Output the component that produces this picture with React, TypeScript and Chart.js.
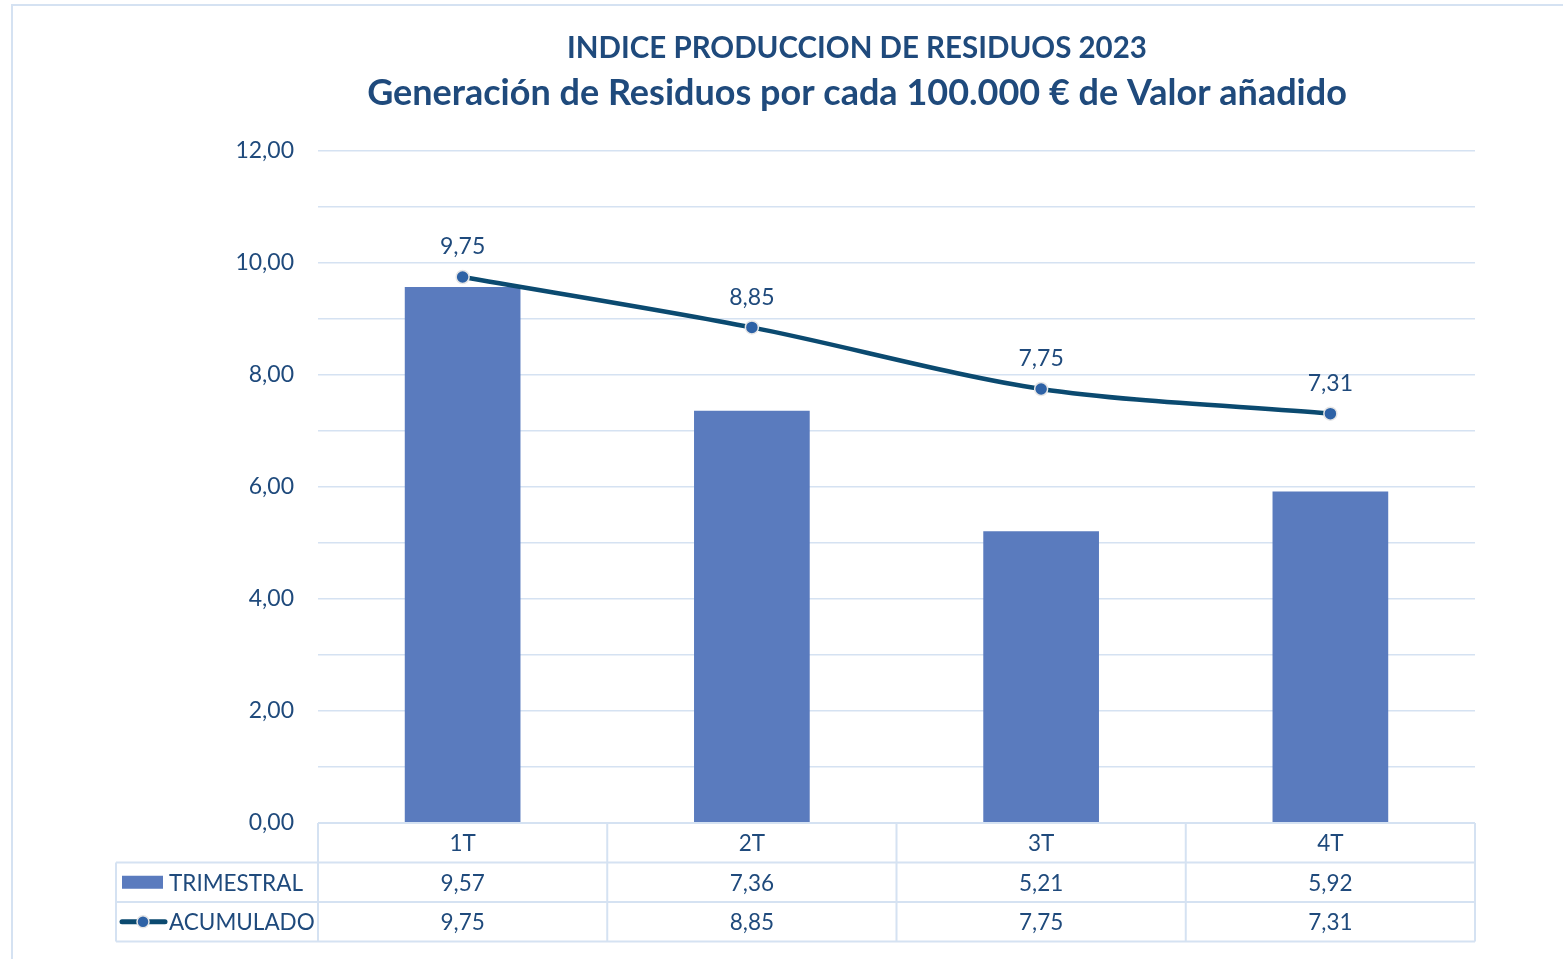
import React, { useEffect, useRef } from "react";
import { Chart, registerables } from "chart.js";

Chart.register(...registerables);

const TITLE_1 = "INDICE PRODUCCION DE RESIDUOS 2023";
const TITLE_2 = "Generación de Residuos por cada 100.000 € de Valor añadido";
const categories = ["1T", "2T", "3T", "4T"];
const trimestral = [9.57, 7.36, 5.21, 5.92];
const acumulado = [9.75, 8.85, 7.75, 7.31];
const seriesNames = ["TRIMESTRAL", "ACUMULADO"];

const TEXT = "#1F4A7C";
const BAR = "#5A7BBE";
const LINE = "#0B4A70";
const POINT = "#2E62A6";
const GRID = "#D5E2F2";
const FONT = "Lato, 'Open Sans', sans-serif";

const fmt = (v: number) => v.toFixed(2).replace(".", ",");

const extrasPlugin = {
  id: "extras",
  afterDraw(chart: any) {
    const ctx = chart.ctx as CanvasRenderingContext2D;
    const area = chart.chartArea;
    const x = chart.scales.x;
    ctx.save();
    // outer border
    ctx.strokeStyle = GRID;
    ctx.lineWidth = 2;
    ctx.beginPath();
    ctx.moveTo(12, 970);
    ctx.lineTo(12, 5);
    ctx.lineTo(1570, 5);
    ctx.stroke();

    // titles
    ctx.fillStyle = TEXT;
    ctx.textAlign = "center";
    ctx.textBaseline = "middle";
    ctx.font = `bold 29.5px ${FONT}`;
    ctx.fillText(TITLE_1, 857, 48);
    ctx.font = `bold 36px ${FONT}`;
    ctx.fillText(TITLE_2, 857, 93);

    // data labels for line
    ctx.font = `23px ${FONT}`;
    const meta = chart.getDatasetMeta(1);
    meta.data.forEach((pt: any, i: number) => {
      ctx.fillText(fmt(acumulado[i]), pt.x, pt.y - 30);
    });

    // data table
    const n = categories.length;
    const colW = (area.right - area.left) / n;
    const rowH = 39.5;
    const top = area.bottom;
    const tableLeft = 116;
    ctx.strokeStyle = GRID;
    ctx.lineWidth = 2;
    ctx.beginPath();
    ctx.moveTo(area.left, top);
    ctx.lineTo(area.right, top);
    ctx.moveTo(tableLeft, top + rowH);
    ctx.lineTo(area.right, top + rowH);
    ctx.moveTo(tableLeft, top + rowH * 2);
    ctx.lineTo(area.right, top + rowH * 2);
    ctx.moveTo(tableLeft, top + rowH * 3);
    ctx.lineTo(area.right, top + rowH * 3);
    for (let i = 0; i <= n; i++) {
      const xx = area.left + colW * i;
      ctx.moveTo(xx, top);
      ctx.lineTo(xx, top + rowH * 3);
    }
    ctx.moveTo(tableLeft, top + rowH);
    ctx.lineTo(tableLeft, top + rowH * 3);
    ctx.stroke();

    ctx.fillStyle = TEXT;
    ctx.font = `22.5px ${FONT}`;
    ctx.textAlign = "center";
    categories.forEach((c, i) => {
      const cx = x.getPixelForValue(i);
      ctx.fillText(c, cx, top + rowH * 0.5 + 1);
      ctx.fillText(fmt(trimestral[i]), cx, top + rowH * 1.5 + 1);
      ctx.fillText(fmt(acumulado[i]), cx, top + rowH * 2.5 + 1);
    });

    // legend keys
    ctx.textAlign = "left";
    const r1 = top + rowH * 1.5;
    const r2 = top + rowH * 2.5;
    ctx.fillStyle = BAR;
    ctx.fillRect(122, r1 - 6.5, 41, 13);
    ctx.fillStyle = TEXT;
    ctx.fillText(seriesNames[0], 169, r1 + 1);
    ctx.strokeStyle = LINE;
    ctx.lineWidth = 5;
    ctx.lineCap = "round";
    ctx.beginPath();
    ctx.moveTo(122, r2);
    ctx.lineTo(165, r2);
    ctx.stroke();
    ctx.beginPath();
    ctx.arc(143, r2, 6, 0, Math.PI * 2);
    ctx.fillStyle = POINT;
    ctx.fill();
    ctx.lineWidth = 1.5;
    ctx.strokeStyle = "#E6E6E6";
    ctx.stroke();
    ctx.fillStyle = TEXT;
    ctx.fillText(seriesNames[1], 169, r2 + 1);
    ctx.restore();
  },
};

export default function App() {
  const ref = useRef<HTMLCanvasElement | null>(null);
  useEffect(() => {
    if (!ref.current) return;
    const chart = new Chart(ref.current, {
      type: "bar",
      data: {
        labels: categories,
        datasets: [
          {
            type: "bar",
            label: seriesNames[0],
            data: trimestral,
            backgroundColor: BAR,
            categoryPercentage: 1,
            barPercentage: 0.4,
            order: 2,
          },
          {
            type: "line",
            label: seriesNames[1],
            data: acumulado,
            borderColor: LINE,
            borderWidth: 4.5,
            tension: 0.3,
            pointRadius: 6.5,
            pointBackgroundColor: POINT,
            pointBorderColor: "#E6E6E6",
            pointBorderWidth: 1.5,
            order: 1,
          } as any,
        ],
      },
      options: {
        animation: false,
        responsive: false,
        layout: { padding: { left: 0, right: 88, top: 151, bottom: 136 } },
        plugins: {
          legend: { display: false },
          title: { display: false },
          tooltip: { enabled: false },
        },
        scales: {
          x: { display: false },
          y: {
            min: 0,
            max: 12,
            afterFit: (s: any) => {
              s.width = 318;
            },
            border: { display: false },
            grid: { color: GRID, lineWidth: 1.5, drawTicks: false },
            ticks: {
              stepSize: 1,
              padding: 24,
              color: TEXT,
              font: { family: FONT, size: 23 },
              callback: (v: any) => (Number(v) % 2 === 0 ? fmt(Number(v)) : ""),
            },
          },
        },
      },
      plugins: [extrasPlugin],
    });
    return () => chart.destroy();
  }, []);
  return (
    <div style={{ position: "absolute", left: 0, top: 0, width: 1563, height: 959, background: "#fff" }}>
      <canvas ref={ref} width={1563} height={959} style={{ width: 1563, height: 959 }} />
    </div>
  );
}
